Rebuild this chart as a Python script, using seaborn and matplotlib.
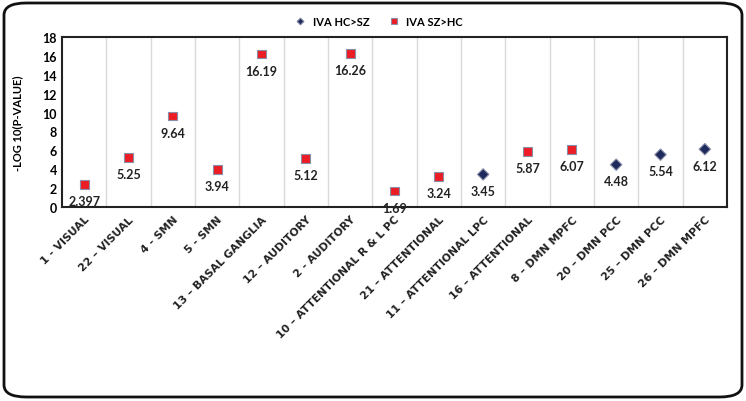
import matplotlib
matplotlib.use("Agg")
import matplotlib.pyplot as plt
import seaborn as sns
import pandas as pd
import numpy as np
from matplotlib.patches import FancyBboxPatch

categories = ["1 - VISUAL", "22 \u2013 VISUAL", "4 - SMN", "5 - SMN", "13 \u2013 BASAL GANGLIA",
              "12 \u2013 AUDITORY", "2 - AUDITORY", "10 \u2013 ATTENTIONAL R & L PC",
              "21 \u2013 ATTENTIONAL", "11 \u2013 ATTENTIONAL LPC", "16 \u2013 ATTENTIONAL",
              "8 \u2013 DMN MPFC", "20 \u2013 DMN PCC", "25 \u2013 DMN PCC", "26 \u2013 DMN MPFC"]
series = ["IVA SZ>HC", "IVA SZ>HC", "IVA SZ>HC", "IVA SZ>HC", "IVA SZ>HC",
          "IVA SZ>HC", "IVA SZ>HC", "IVA SZ>HC", "IVA SZ>HC", "IVA HC>SZ",
          "IVA SZ>HC", "IVA SZ>HC", "IVA HC>SZ", "IVA HC>SZ", "IVA HC>SZ"]
values = [2.397, 5.25, 9.64, 3.94, 16.19, 5.12, 16.26, 1.69, 3.24, 3.45, 5.87, 6.07, 4.48, 5.54, 6.12]
value_labels = ["2.397", "5.25", "9.64", "3.94", "16.19", "5.12", "16.26", "1.69", "3.24",
                "3.45", "5.87", "6.07", "4.48", "5.54", "6.12"]

df = pd.DataFrame({"cat": categories, "series": series, "val": values,
                   "x": np.arange(len(categories))})

plt.rcParams['font.family'] = ['Lato', 'DejaVu Sans']
fig = plt.figure(figsize=(7.46, 4.02), dpi=100)
ax = fig.add_axes([62/746, 1-208/402, 665/746, 170/402])

palette = {"IVA HC>SZ": "#1f2a5c", "IVA SZ>HC": "#ec1c24"}
markers = {"IVA HC>SZ": "D", "IVA SZ>HC": "s"}
sizes = {"IVA HC>SZ": 34, "IVA SZ>HC": 40}
sns.scatterplot(data=df, x="x", y="val", hue="series", style="series", size="series",
                sizes=sizes,
                hue_order=["IVA HC>SZ", "IVA SZ>HC"], style_order=["IVA HC>SZ", "IVA SZ>HC"],
                size_order=["IVA HC>SZ", "IVA SZ>HC"],
                palette=palette, markers=markers, edgecolor="#8a8fa8", linewidth=0.8,
                ax=ax, legend=True, zorder=3)

for xi, v, lab in zip(df["x"], df["val"], value_labels):
    ax.annotate(lab, (xi, v), xytext=(0, -12), textcoords="offset points",
                ha="center", va="center", fontsize=9, fontweight="bold", color="#222222")

ax.set_xlim(-0.5, len(categories) - 0.5)
ax.set_ylim(0, 18)
ax.set_yticks(np.arange(0, 19, 2))
ax.set_xticks(np.arange(len(categories)))
ax.set_xticklabels(categories, rotation=45, ha="right", rotation_mode="anchor",
                   fontsize=7.8, fontweight="bold", family="DejaVu Sans", color="#222222")
ax.set_xticks(np.arange(0.5, len(categories) - 0.5, 1), minor=True)
ax.grid(False)
ax.grid(which="minor", axis="x", color="#d9d9d9", linewidth=1)
ax.tick_params(axis="x", which="both", length=0, pad=5)
ax.tick_params(axis="y", length=0, labelsize=9)
for t in ax.get_yticklabels():
    t.set_fontweight("bold")
ax.set_xlabel("")
ax.set_ylabel("-LOG 10(P-VALUE)", fontsize=8, fontweight="bold", labelpad=14)
for sp in ax.spines.values():
    sp.set_color("#222222")
    sp.set_linewidth(1.5)

h, l = ax.get_legend_handles_labels()
ax.get_legend().remove()
keep = [(hh, ll) for hh, ll in zip(h, l) if ll in ("IVA HC>SZ", "IVA SZ>HC")][:2]
fig.legend([k[0] for k in keep], [k[1] for k in keep], loc="center",
           bbox_to_anchor=(376/746, 1-22/402), ncol=2, frameon=False,
           prop={"weight": "bold", "size": 8}, handletextpad=0.1,
           columnspacing=1.2, markerscale=0.6)

frame = FancyBboxPatch((4/746, 4/402), 738/746, 394/402,
                       boxstyle="round,pad=0,rounding_size=0.03",
                       transform=fig.transFigure, fill=False, edgecolor="#111111", linewidth=2)
fig.patches.append(frame)

fig.savefig("out.png", dpi=100)
